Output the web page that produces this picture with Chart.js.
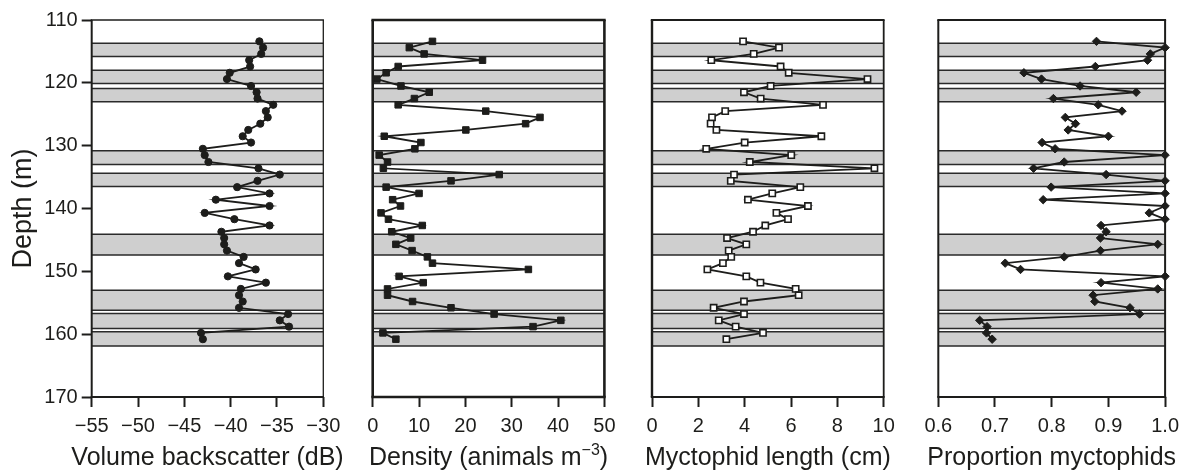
<!DOCTYPE html>
<html>
<head>
<meta charset="utf-8">
<script src="https://cdn.jsdelivr.net/npm/chart.js@4.4.1/dist/chart.umd.min.js"></script>
<style>
  html, body { margin: 0; padding: 0; background: #fff; }
  #wrap { position: relative; width: 1186px; height: 470px; }
  #wrap canvas { position: absolute; left: 0; top: 0; }
</style>
</head>
<body>
<div id="wrap">
  <canvas id="backscatterChart" width="1186" height="470"></canvas>
  <canvas id="densityChart" width="1186" height="470"></canvas>
  <canvas id="lengthChart" width="1186" height="470"></canvas>
  <canvas id="proportionChart" width="1186" height="470"></canvas>
</div>
<script>
// sample depths (m), shared by all four profiles
const depths = [
  113.4, 114.4, 115.4, 116.4, 117.4, 118.4, 119.4, 120.5, 121.5, 122.5,
  123.5, 124.5, 125.5, 126.5, 127.5, 128.5, 129.5, 130.5, 131.5, 132.6,
  133.6, 134.6, 135.6, 136.6, 137.6, 138.6, 139.6, 140.7, 141.7, 142.7,
  143.7, 144.7, 145.7, 146.7, 147.7, 148.7, 149.7, 150.8, 151.8, 152.8,
  153.8, 154.8, 155.8, 156.8, 157.8, 158.8, 159.8, 160.8
];

const backscatter = [
  -36.9, -36.5, -36.7, -38.0, -37.9, -40.1, -40.4, -37.8, -37.2, -37.1,
  -35.4, -36.2, -36.0, -36.8, -38.1, -38.7, -37.8, -43.0, -42.8, -42.4,
  -37.0, -34.7, -37.1, -39.3, -35.8, -41.6, -35.8, -42.8, -39.6, -35.8,
  -41.0, -40.7, -40.7, -40.4, -38.6, -39.1, -37.3, -40.3, -36.2, -38.9,
  -39.1, -38.7, -39.1, -33.8, -34.7, -33.7, -43.2, -43.0
];

const density = [
  12.9, 7.9, 11.1, 23.7, 5.5, 2.9, 0.9, 6.1, 12.2, 9.0,
  5.5, 24.4, 36.1, 33.0, 20.1, 2.5, 10.4, 9.1, 1.4, 3.2,
  2.3, 27.3, 16.9, 2.9, 10.0, 4.3, 6.0, 1.8, 3.4, 10.7,
  4.1, 8.2, 5.0, 8.5, 11.8, 12.9, 33.6, 5.7, 10.9, 3.2,
  3.2, 8.6, 16.9, 26.2, 40.6, 34.6, 2.2, 5.0
];

const myctophidLength = [
  3.93, 5.48, 4.39, 2.56, 5.55, 5.90, 9.3, 5.12, 3.97, 4.69,
  7.38, 3.16, 2.59, 2.53, 2.78, 7.31, 4.0, 2.34, 6.01, 4.22,
  9.6, 3.54, 3.4, 6.4, 5.19, 4.14, 6.73, 5.37, 5.87, 4.89,
  4.36, 3.24, 4.07, 3.31, 3.42, 3.06, 2.39, 4.07, 4.68, 6.2,
  6.33, 3.97, 2.66, 3.97, 2.88, 3.61, 4.79, 3.21
];

const proportion = [
  0.879, 1.0, 0.974, 0.969, 0.877, 0.751, 0.782, 0.85, 0.949, 0.803,
  0.882, 0.924, 0.824, 0.842, 0.829, 0.9, 0.783, 0.806, 1.0, 0.822,
  0.768, 0.896, 1.0, 0.799, 1.0, 0.785, 1.0, 0.972, 1.0, 0.887,
  0.896, 0.886, 0.987, 0.886, 0.822, 0.718, 0.745, 1.0, 0.887, 0.987,
  0.873, 0.876, 0.938, 0.955, 0.673, 0.686, 0.685, 0.695
];

// shaded depth layers (top / bottom, m)
const bandTop = [113.7, 118.0, 120.9, 130.8, 134.4, 144.1, 153.0, 156.7, 159.6];
const bandBottom = [115.8, 120.1, 123.0, 133.0, 136.5, 147.4, 156.2, 159.1, 161.9];

// axis ticks
const depthTicks = [110, 120, 130, 140, 150, 160, 170];
const backscatterTicks = [-55, -50, -45, -40, -35, -30];
const densityTicks = [0, 10, 20, 30, 40, 50];
const lengthTicks = [0, 2, 4, 6, 8, 10];
const proportionTicks = [0.6, 0.7, 0.8, 0.9, 1.0];

const INK = '#1d1d1b';
const FONT = "'Liberation Sans', Arial, Helvetica, sans-serif";
const W = 1186, H = 470;
const PLOT_TOP = 20, PLOT_BOTTOM = 397;
const TITLE_Y = 456;

const minus = (v) => (v < 0 ? '\u2212' + Math.abs(v) : String(v));

// grey layers behind the profile, plus the panel frame
const shadedBands = {
  id: 'shadedBands',
  beforeDatasetsDraw(chart, args, opts) {
    const { ctx, chartArea: a, scales: { y } } = chart;
    ctx.save();
    bandTop.forEach((top, i) => {
      const y0 = y.getPixelForValue(top);
      const y1 = y.getPixelForValue(bandBottom[i]);
      ctx.fillStyle = '#cfcfcf';
      ctx.fillRect(a.left, y0, a.width, y1 - y0);
      ctx.strokeStyle = '#2a2a2a';
      ctx.lineWidth = 1.5;
      ctx.beginPath();
      ctx.moveTo(a.left, y0); ctx.lineTo(a.right, y0);
      ctx.moveTo(a.left, y1); ctx.lineTo(a.right, y1);
      ctx.stroke();
    });
    const [t, r, b, l] = opts.frame;
    ctx.strokeStyle = INK;
    const side = (w, x0, y0, x1, y1) => {
      ctx.lineWidth = w;
      ctx.beginPath(); ctx.moveTo(x0, y0); ctx.lineTo(x1, y1); ctx.stroke();
    };
    side(t, a.left - l / 2, a.top, a.right + r / 2, a.top);
    side(r, a.right, a.top, a.right, a.bottom);
    side(b, a.left - l / 2, a.bottom, a.right + r / 2, a.bottom);
    side(l, a.left, a.top, a.left, a.bottom);
    ctx.restore();
  }
};

// x-axis title drawn by hand: the built-in one gets squeezed to the
// axis width, and the density unit needs a real superscript
const axisCaption = {
  id: 'axisCaption',
  afterDraw(chart, args, opts) {
    const { ctx, chartArea: a } = chart;
    const parts = opts.parts;
    const big = `25px ${FONT}`;
    const small = `16px ${FONT}`;
    ctx.save();
    ctx.fillStyle = INK;
    ctx.textBaseline = 'alphabetic';
    const widths = parts.map((p) => { ctx.font = p.sup ? small : big; return ctx.measureText(p.text).width; });
    const total = widths.reduce((s, w) => s + w, 0);
    let x = (a.left + a.right) / 2 - total / 2;
    const base = TITLE_Y + 9;
    parts.forEach((p, i) => {
      ctx.font = p.sup ? small : big;
      ctx.fillText(p.text, x, p.sup ? base - 10 : base);
      x += widths[i];
    });
    ctx.restore();
  }
};

function makePanel(id, p) {
  const showDepth = !!p.showDepth;
  return new Chart(document.getElementById(id), {
    type: 'scatter',
    data: {
      datasets: [{
        data: p.values.map((v, i) => ({ x: v, y: depths[i] })),
        showLine: true,
        borderColor: INK,
        borderWidth: 1.8,
        clip: false,
        pointStyle: p.marker.style,
        pointRadius: p.marker.radius,
        pointBackgroundColor: p.marker.fill,
        pointBorderColor: INK,
        pointBorderWidth: p.marker.border,
      }],
    },
    options: {
      responsive: false,
      animation: false,
      events: [],
      layout: { padding: { left: showDepth ? 9 : p.left, right: W - p.right, top: PLOT_TOP, bottom: 0 } },
      plugins: {
        legend: { display: false },
        tooltip: { enabled: false },
        shadedBands: { frame: p.frame },
        axisCaption: { parts: p.title },
      },
      scales: {
        x: {
          type: 'linear',
          min: p.ticks[0],
          max: p.ticks[p.ticks.length - 1],
          afterBuildTicks: (s) => { s.ticks = p.ticks.map((v) => ({ value: v })); },
          afterFit: (s) => { s.height = H - PLOT_BOTTOM; },
          border: { display: false },
          grid: { drawOnChartArea: false, drawTicks: true, tickLength: 10, tickWidth: 2, tickColor: INK },
          ticks: { color: INK, font: { family: FONT, size: 20 }, padding: 7, maxRotation: 0, autoSkip: false, callback: p.fmt },
        },
        y: {
          type: 'linear',
          reverse: true,
          min: 110,
          max: 170,
          display: showDepth,
          afterBuildTicks: (s) => { s.ticks = depthTicks.map((v) => ({ value: v })); },
          afterFit: (s) => { s.width = showDepth ? p.left - 9 : 0; },
          border: { display: false },
          grid: { drawOnChartArea: false, drawTicks: true, tickLength: 10, tickWidth: 2, tickColor: INK },
          ticks: { color: INK, font: { family: FONT, size: 20 }, padding: 4, autoSkip: false },
          title: { display: showDepth, text: 'Depth (m)', color: INK, font: { family: FONT, size: 27, lineHeight: 1.1 }, padding: 0 },
        },
      },
    },
    plugins: [shadedBands, axisCaption],
  });
}

makePanel('backscatterChart', {
  values: backscatter, ticks: backscatterTicks, fmt: minus,
  title: [{ text: 'Volume backscatter (dB)' }], left: 91.7, right: 323.3, showDepth: true,
  frame: [1.3, 1.3, 2, 2],
  marker: { style: 'circle', radius: 3.6, fill: INK, border: 1 },
});

makePanel('densityChart', {
  values: density, ticks: densityTicks, fmt: (v) => String(v),
  title: [{ text: 'Density (animals m' }, { text: '\u22123', sup: true }, { text: ')' }],
  left: 372.7, right: 604.4,
  frame: [2.6, 2.6, 2.6, 2.6],
  marker: { style: 'rect', radius: 4.6, fill: INK, border: 1 },
});

makePanel('lengthChart', {
  values: myctophidLength, ticks: lengthTicks, fmt: (v) => String(v),
  title: [{ text: 'Myctophid length (cm)' }], left: 652, right: 883.7,
  frame: [1.8, 1.8, 2.2, 2.4],
  marker: { style: 'rect', radius: 4.4, fill: '#ffffff', border: 1.6 },
});

makePanel('proportionChart', {
  values: proportion, ticks: proportionTicks, fmt: (v) => v.toFixed(1),
  title: [{ text: 'Proportion myctophids' }], left: 938.3, right: 1170,
  frame: [1.8, 2, 2, 2],
  marker: { style: 'rectRot', radius: 4.2, fill: INK, border: 1 },
});
</script>
</body>
</html>
